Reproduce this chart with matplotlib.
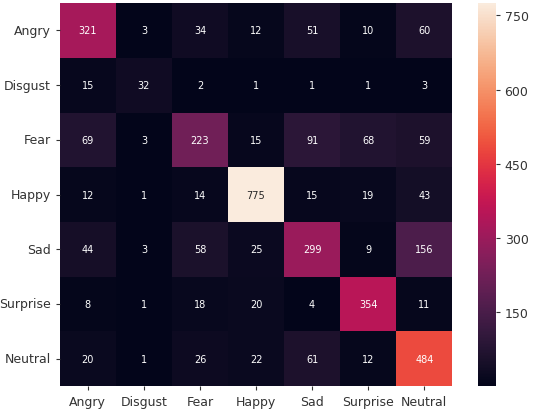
import numpy as np
import matplotlib
matplotlib.use("Agg")
import matplotlib.pyplot as plt
import seaborn as sns

LABELS = ['Angry', 'Disgust', 'Fear', 'Happy', 'Sad', 'Surprise', 'Neutral']

ROW_ANGRY = [321, 3, 34, 12, 51, 10, 60]
ROW_DISGUST = [15, 32, 2, 1, 1, 1, 3]
ROW_FEAR = [69, 3, 223, 15, 91, 68, 59]
ROW_HAPPY = [12, 1, 14, 775, 15, 19, 43]
ROW_SAD = [44, 3, 58, 25, 299, 9, 156]
ROW_SURPRISE = [8, 1, 18, 20, 4, 354, 11]
ROW_NEUTRAL = [20, 1, 26, 22, 61, 12, 484]

CBAR_TICKS = [150, 300, 450, 600, 750]


def main():
    cm = np.array([ROW_ANGRY, ROW_DISGUST, ROW_FEAR, ROW_HAPPY,
                   ROW_SAD, ROW_SURPRISE, ROW_NEUTRAL])

    fig = plt.figure(figsize=(5.34, 4.10), dpi=100)
    ax = fig.add_axes([0.112, 0.056, 0.735, 0.934])
    cax = fig.add_axes([0.895, 0.056, 0.033, 0.934])

    sns.heatmap(cm, annot=True, fmt='d', ax=ax, cbar_ax=cax,
                xticklabels=LABELS, yticklabels=LABELS,
                annot_kws={'size': 7})

    ax.tick_params(axis='both', labelsize=9, length=3, colors='#333333')
    plt.setp(ax.get_yticklabels(), rotation=0)
    plt.setp(ax.get_xticklabels(), rotation=0)

    cax.set_yticks(CBAR_TICKS)
    cax.tick_params(labelsize=9, length=3, colors='#333333')

    fig.savefig('out.png', dpi=100)


if __name__ == "__main__":
    main()
